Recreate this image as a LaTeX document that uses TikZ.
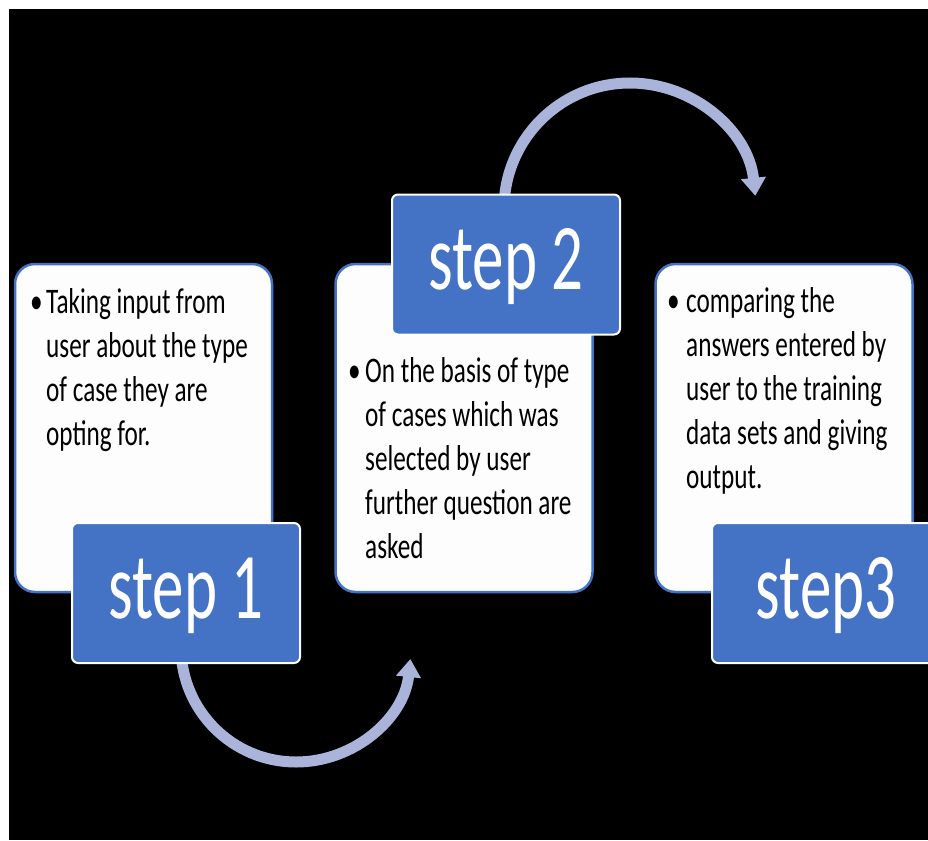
\documentclass[tikz,border=0pt]{standalone}
\usepackage{fontspec}
\usetikzlibrary{arrows.meta}
\newfontfamily\bodyfont[FakeStretch=0.70, WordSpace={1,0,0}]{Carlito}
\newfontfamily\stepfont[FakeStretch=0.67, WordSpace={1,0,0}]{Carlito}
\newcommand\bodysetup{\bodyfont\fontsize{36}{44}\selectfont}
\newcommand\stepsetup{\stepfont\fontsize{94}{100}\selectfont}
\definecolor{stepblue}{HTML}{4472C4}
\definecolor{flowlilac}{HTML}{AAB4DA}
\definecolor{boxwhite}{HTML}{FDFDFD}
\begin{document}
\begin{tikzpicture}[x=1pt,y=-1pt,
  panel/.style={draw=stepblue, line width=2.5pt, fill=boxwhite,
    rounded corners=20pt, inner sep=0pt, minimum width=257pt, minimum height=328pt},
  stepbox/.style={draw=white, line width=2pt, fill=stepblue, rounded corners=6pt,
    minimum width=228pt, minimum height=140pt, inner sep=0pt, text=white,
    font=\stepsetup, text height=56pt, text depth=6pt},
  bodytext/.style={font=\bodysetup, text=black, text width=260pt, align=flush left,
    inner sep=0pt, anchor=base west},
  bulletmark/.style={font=\bodysetup, text=black, inner sep=0pt, anchor=base west},
  flow/.style={draw=flowlilac, line width=11pt,
    -{Triangle[length=18pt,width=24pt]}}
]
\useasboundingbox (0,0) rectangle (928,840);
\fill[white] (0,0) rectangle (928,840);
\fill[black] (9,9) rectangle (928,840);

% curved connectors, drawn first so the step boxes cover their tails
\coordinate (a1from) at (181,647);
\draw[flow] (a1from) arc[start angle=180, end angle=6, radius=115];
\coordinate (a2from) at (504,209);
\draw[flow] (a2from) arc[start angle=180, end angle=354, radius=126];

% step 1
\node[panel] (p1) at (143.5,428) {};
\node[bulletmark] (b1) at (30,313) {•};
\node[bodytext] (t1) at (46,313) {Taking input from\\user about the type\\of case they are\\opting for.};
\node[stepbox] (s1) at (186,593) {step 1};

% step 2
\node[panel] (p2) at (464,428) {};
\node[bulletmark] (b2) at (348,382) {•};
\node[bodytext] (t2) at (365,382) {On the basis of type\\of cases which was\\selected by user\\further question are\\asked};
\node[stepbox] (s2) at (506,264.5) {step 2};

% step 3
\node[panel] (p3) at (784,428) {};
\node[bulletmark] (b3) at (667,312) {•};
\node[bodytext] (t3) at (686,312) {comparing the\\answers entered by\\user to the training\\data sets and giving\\output.};
\node[stepbox] (s3) at (826,593) {step3};
\end{tikzpicture}
\end{document}
